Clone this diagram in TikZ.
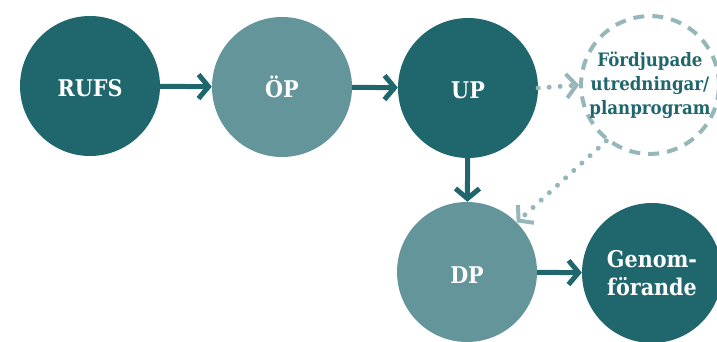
\documentclass[tikz,border=0pt]{standalone}
\usepackage{fontspec}
\setmainfont{DejaVu Serif Condensed}
\usetikzlibrary{arrows.meta}

\definecolor{darkteal}{HTML}{20666D}
\definecolor{lightteal}{HTML}{64959A}
\definecolor{paleteal}{HTML}{95B7B9}

\begin{document}
\begin{tikzpicture}[x=1pt,y=-1pt,
  stage/.style={circle,fill=#1,inner sep=0pt,minimum size=140pt,text=white,
    text height=22pt,text depth=-5pt,
    font=\bfseries\fontsize{23}{28}\selectfont,align=center},
  study/.style={circle,draw=paleteal,line width=4pt,dash pattern=on 11pt off 8pt,
    inner sep=0pt,minimum size=131pt,text=darkteal,
    font=\bfseries\fontsize{18.5}{24}\selectfont,align=center},
  flow/.style={draw=darkteal,line width=5pt,-{Straight Barb[length=10pt,width=24pt]}},
  hint/.style={draw=paleteal,line width=5pt,line cap=round,dash pattern=on 0pt off 11pt,
    -{Straight Barb[length=10pt,width=24pt,line width=4pt,line cap=butt]}}]
\useasboundingbox (0,0) rectangle (717,342);

\node[stage=darkteal]  (rufs) at (90,86)   {RUFS};
\node[stage=lightteal] (op)   at (282,87)  {ÖP};
\node[stage=darkteal]  (up)   at (468,88)  {UP};
\node[study]           (fp)   at (650,85)  {Fördjupade\\utredningar/\\planprogram};
\node[stage=lightteal] (dp)   at (467,272) {DP};
\node[stage=darkteal,text height=44pt,text depth=-9pt]
                       (gf)   at (652,273) {Genom-\\förande};

\draw[flow] (rufs) -- (op);
\draw[flow] (op) -- (up);
\draw[flow] (up) -- (dp);
\draw[flow] (dp) -- (gf);

% optional steps
\draw[hint] (up.east) -- (fp.west);
\draw[hint] (fp.-128) -- (dp.45);
\end{tikzpicture}
\end{document}
